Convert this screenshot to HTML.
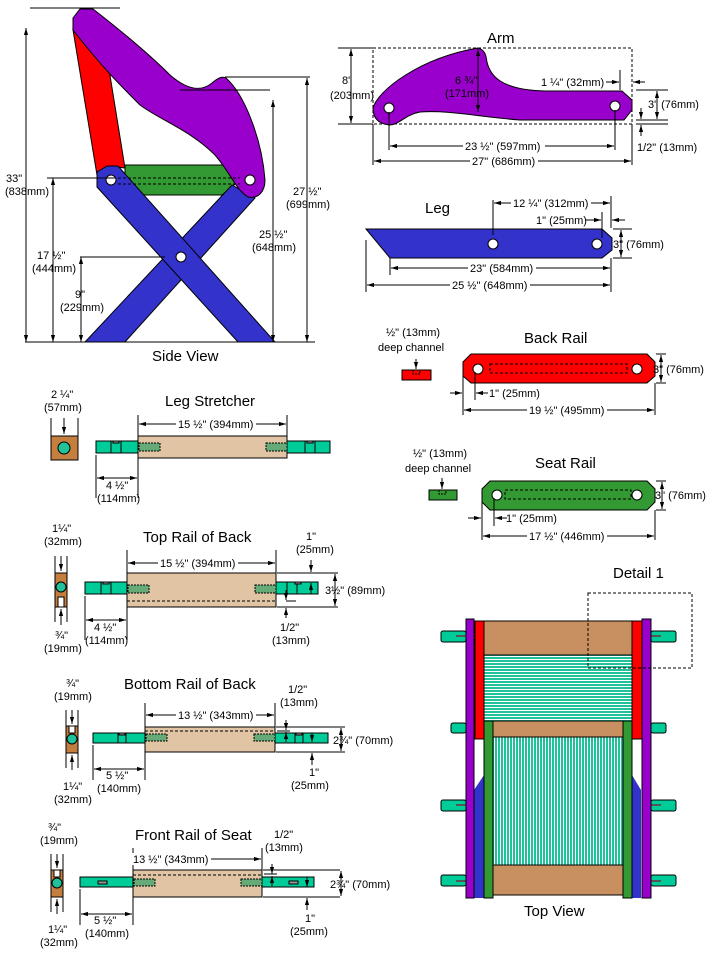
<!DOCTYPE html>
<html><head><meta charset="utf-8"><style>
html,body{margin:0;padding:0;background:#fff;}
svg{display:block;}
text{font-family:"Liberation Sans",sans-serif;font-size:11px;fill:#000;}
.t{font-size:15px;}
</style></head><body>
<svg width="720" height="960" viewBox="0 0 720 960" xmlns="http://www.w3.org/2000/svg">
<defs>
<marker id="a" viewBox="0 0 10 10" refX="10" refY="5" markerWidth="7" markerHeight="7" orient="auto-start-reverse"><path d="M0,2L10,5L0,8z" fill="#000"/></marker>
<pattern id="hs" width="4" height="3" patternUnits="userSpaceOnUse"><rect width="4" height="3" fill="#fff"/><rect width="4" height="2" fill="#1fc29a"/></pattern>
<pattern id="vs" width="3" height="4" patternUnits="userSpaceOnUse"><rect width="3" height="4" fill="#fff"/><rect width="2" height="4" fill="#1fc29a"/></pattern>
</defs>
<g stroke="#000" stroke-width="1" fill="none">
<!-- SIDE VIEW -->
<polygon points="125,165 228,165 240,180 222,195 140,195 125,180" fill="#339933"/>
<polygon points="73,30 108,63 125,168 107,166 97,175" fill="#ff0000"/>
<polygon points="232,185 255,198 125,342 85,342" fill="#3333cc"/>
<polygon points="97,172 107,166 118,166 275,342 238,342 97,187" fill="#3333cc"/>
<path d="M73,18 L80,9 L93,9 C120,30 150,55 170,75 C185,88 200,93 212,83 C218,78 222,76 226,78 C245,95 262,140 265,180 C265,192 258,199 248,197 C236,190 232,175 215,155 C190,130 160,120 140,105 C120,85 100,65 73,30 Z" fill="#9900cc"/>
<path d="M118,178 L240,178 M118,184 L240,184" stroke-dasharray="3,2"/>
<circle cx="111" cy="180" r="5" fill="#fff"/><circle cx="250" cy="180" r="5" fill="#fff"/><circle cx="181" cy="257" r="5" fill="#fff"/>
<path d="M30,8 L120,8 M25,342 L315,342 M47,178 L115,178 M80,257 L165,257 M225,77 L310,77 M180,90 L270,90"/>
<line x1="26" y1="28" x2="26" y2="342" marker-start="url(#a)" marker-end="url(#a)"/>
<line x1="53" y1="178" x2="53" y2="342" marker-start="url(#a)" marker-end="url(#a)"/>
<line x1="81" y1="257" x2="81" y2="342" marker-start="url(#a)" marker-end="url(#a)"/>
<line x1="273" y1="100" x2="273" y2="342" marker-start="url(#a)" marker-end="url(#a)"/>
<line x1="307" y1="78" x2="307" y2="342" marker-start="url(#a)" marker-end="url(#a)"/>
<!-- ARM -->
<rect x="373" y="48" width="259" height="76" stroke-dasharray="3,2"/>
<path d="M373,108 C378,90 420,58 478,48 C485,50 486,55 487,62 C490,75 500,90 545,91 L622,91 L632,100 L632,110 L624,120 L520,120 C480,117 450,110 420,112 C405,115 400,124 390,125 C378,124 373,118 373,108 Z" fill="#9900cc"/>
<circle cx="389" cy="108" r="5" fill="#fff"/><circle cx="615" cy="106" r="5" fill="#fff"/>
<path d="M338,48 L373,48 M338,124 L373,124"/>
<line x1="351" y1="49" x2="351" y2="123" marker-start="url(#a)" marker-end="url(#a)"/>
<line x1="478" y1="49" x2="478" y2="112" marker-start="url(#a)" marker-end="url(#a)"/>
<path d="M389,112 L389,150 M615,110 L615,150 M373,124 L373,165 M632,124 L632,165 M620,70 L620,90 M636,90 L668,90 M636,120 L668,120 M636,124 L668,124"/>
<line x1="390" y1="146" x2="614" y2="146" marker-start="url(#a)" marker-end="url(#a)"/>
<line x1="374" y1="161" x2="631" y2="161" marker-start="url(#a)" marker-end="url(#a)"/>
<line x1="606" y1="82" x2="619" y2="82" marker-end="url(#a)"/>
<line x1="645" y1="82" x2="633" y2="82" marker-end="url(#a)"/>
<line x1="657" y1="91" x2="657" y2="119" marker-start="url(#a)" marker-end="url(#a)"/>
<line x1="641" y1="108" x2="641" y2="119" marker-end="url(#a)"/>
<line x1="641" y1="136" x2="641" y2="125" marker-end="url(#a)"/>
<!-- LEG -->
<polygon points="366,229 602,229 612,238 612,250 602,258 390,258" fill="#3333cc"/>
<circle cx="493" cy="244" r="5" fill="#fff"/><circle cx="597" cy="244" r="5" fill="#fff"/>
<path d="M493,200 L493,235 M611,196 L611,228 M602,212 L602,238 M366,240 L366,292 M390,258 L390,275 M611,258 L611,292 M613,229 L632,229 M613,258 L632,258"/>
<line x1="494" y1="203" x2="610" y2="203" marker-start="url(#a)" marker-end="url(#a)"/>
<line x1="585" y1="220" x2="601" y2="220" marker-end="url(#a)"/>
<line x1="625" y1="220" x2="612" y2="220" marker-end="url(#a)"/>
<line x1="621" y1="230" x2="621" y2="257" marker-start="url(#a)" marker-end="url(#a)"/>
<line x1="391" y1="268" x2="610" y2="268" marker-start="url(#a)" marker-end="url(#a)"/>
<line x1="367" y1="285" x2="610" y2="285" marker-start="url(#a)" marker-end="url(#a)"/>
<!-- BACK RAIL -->
<polygon points="471,354 647,354 655,362 655,376 647,383 471,383 463,376 463,362" fill="#ff0000"/>
<circle cx="478" cy="369" r="5" fill="#fff"/><circle cx="637" cy="369" r="5" fill="#fff"/>
<rect x="490" y="364" width="137" height="9" stroke-dasharray="3,2"/>
<rect x="402" y="370" width="29" height="10" fill="#ff0000"/>
<path d="M413,370 L413,374 L420,374 L420,370" stroke-dasharray="2,1"/>
<line x1="416" y1="359" x2="416" y2="369" marker-end="url(#a)"/>
<path d="M463,376 L463,415 M475,372 L475,400 M655,383 L655,415 M656,354 L666,354 M656,383 L666,383"/>
<line x1="450" y1="393" x2="462" y2="393" marker-end="url(#a)"/>
<line x1="488" y1="393" x2="476" y2="393" marker-end="url(#a)"/>
<line x1="464" y1="410" x2="654" y2="410" marker-start="url(#a)" marker-end="url(#a)"/>
<line x1="661" y1="355" x2="661" y2="382" marker-start="url(#a)" marker-end="url(#a)"/>
<!-- SEAT RAIL -->
<polygon points="490,481 647,481 655,489 655,502 647,510 490,510 482,502 482,489" fill="#339933"/>
<circle cx="497" cy="495" r="5" fill="#fff"/><circle cx="637" cy="495" r="5" fill="#fff"/>
<rect x="505" y="490" width="126" height="9" stroke-dasharray="3,2"/>
<rect x="429" y="490" width="28" height="10" fill="#339933"/>
<path d="M439,490 L439,494 L446,494 L446,490" stroke-dasharray="2,1"/>
<line x1="442" y1="478" x2="442" y2="489" marker-end="url(#a)"/>
<path d="M482,502 L482,540 M494,498 L494,526 M655,510 L655,540 M656,481 L666,481 M656,510 L666,510"/>
<line x1="468" y1="518" x2="481" y2="518" marker-end="url(#a)"/>
<line x1="507" y1="518" x2="495" y2="518" marker-end="url(#a)"/>
<line x1="483" y1="536" x2="654" y2="536" marker-start="url(#a)" marker-end="url(#a)"/>
<line x1="662" y1="482" x2="662" y2="509" marker-start="url(#a)" marker-end="url(#a)"/>
<!-- LEG STRETCHER -->
<rect x="51" y="436" width="27" height="24" fill="#c47f3e"/><circle cx="64" cy="448" r="6" fill="#1fc29a"/>
<path d="M51,418 L51,436 M78,418 L78,436"/>
<line x1="64" y1="418" x2="64" y2="434" marker-end="url(#a)"/>
<rect x="96" y="441" width="234" height="12" fill="#00cc99"/>
<rect x="138" y="436" width="149" height="22" fill="#e0c4a4"/>
<rect x="139" y="443" width="21" height="8" fill="#66aa77" stroke-dasharray="2,1"/>
<rect x="266" y="443" width="21" height="8" fill="#66aa77" stroke-dasharray="2,1"/>
<path d="M111,441 L111,453 M121,441 L121,453 M305,441 L305,453 M315,441 L315,453"/>
<rect x="113" y="441" width="6" height="2" fill="#999"/><rect x="307" y="441" width="6" height="2" fill="#999"/>
<path d="M138,415 L138,436 M287,415 L287,436 M96,455 L96,498 M138,458 L138,498"/>
<line x1="139" y1="424" x2="286" y2="424" marker-start="url(#a)" marker-end="url(#a)"/>
<line x1="97" y1="478" x2="137" y2="478" marker-start="url(#a)" marker-end="url(#a)"/>
<!-- TOP RAIL -->
<rect x="55" y="573" width="12" height="34" fill="#c47f3e"/><circle cx="61" cy="587" r="5" fill="#1fc29a"/>
<rect x="58" y="597" width="6" height="10" fill="#fff"/>
<path d="M55,556 L55,573 M67,556 L67,573 M55,607 L55,622 M67,607 L67,622"/>
<line x1="61" y1="556" x2="61" y2="571" marker-end="url(#a)"/>
<line x1="61" y1="625" x2="61" y2="609" marker-end="url(#a)"/>
<rect x="85" y="582" width="233" height="12" fill="#00cc99"/>
<rect x="127" y="573" width="149" height="34" fill="#e0c4a4"/>
<line x1="127" y1="601" x2="276" y2="601" stroke-dasharray="3,2"/>
<rect x="128" y="585" width="21" height="8" fill="#66aa77" stroke-dasharray="2,1"/>
<rect x="255" y="585" width="21" height="8" fill="#66aa77" stroke-dasharray="2,1"/>
<path d="M101,582 L101,594 M111,582 L111,594 M287,582 L287,594 M297,582 L297,594"/>
<rect x="103" y="582" width="6" height="2" fill="#999"/><rect x="295" y="582" width="6" height="2" fill="#999"/>
<path d="M127,550 L127,573 M276,550 L276,573 M85,596 L85,640 M127,607 L127,640 M277,573 L338,573 M277,607 L338,607 M286,601 L296,601"/>
<line x1="128" y1="563" x2="275" y2="563" marker-start="url(#a)" marker-end="url(#a)"/>
<line x1="86" y1="620" x2="126" y2="620" marker-start="url(#a)" marker-end="url(#a)"/>
<line x1="311" y1="560" x2="311" y2="572" marker-end="url(#a)"/>
<line x1="311" y1="594" x2="311" y2="583" marker-end="url(#a)"/>
<line x1="335" y1="574" x2="335" y2="606" marker-start="url(#a)" marker-end="url(#a)"/>
<line x1="286" y1="590" x2="286" y2="600" marker-end="url(#a)"/>
<line x1="286" y1="618" x2="286" y2="608" marker-end="url(#a)"/>
<!-- BOTTOM RAIL -->
<rect x="66" y="726" width="12" height="27" fill="#c47f3e"/><circle cx="72" cy="739" r="5" fill="#1fc29a"/>
<rect x="69" y="726" width="6" height="7" fill="#fff"/>
<path d="M66,710 L66,726 M78,710 L78,726 M66,753 L66,768 M78,753 L78,768"/>
<line x1="72" y1="710" x2="72" y2="724" marker-end="url(#a)"/>
<line x1="72" y1="770" x2="72" y2="755" marker-end="url(#a)"/>
<rect x="93" y="733" width="235" height="10" fill="#00cc99"/>
<rect x="145" y="727" width="130" height="25" fill="#e0c4a4"/>
<line x1="145" y1="731" x2="275" y2="731" stroke-dasharray="3,2"/>
<rect x="146" y="734" width="21" height="7" fill="#66aa77" stroke-dasharray="2,1"/>
<rect x="254" y="734" width="21" height="7" fill="#66aa77" stroke-dasharray="2,1"/>
<path d="M118,733 L118,743 M126,733 L126,743 M295,733 L295,743 M303,733 L303,743"/>
<rect x="119" y="733" width="6" height="2" fill="#999"/><rect x="296" y="733" width="6" height="2" fill="#999"/>
<path d="M145,703 L145,727 M275,703 L275,727 M93,745 L93,780 M145,752 L145,780 M276,727 L345,727 M276,752 L345,752 M277,731 L290,731"/>
<line x1="146" y1="715" x2="274" y2="715" marker-start="url(#a)" marker-end="url(#a)"/>
<line x1="94" y1="769" x2="144" y2="769" marker-start="url(#a)" marker-end="url(#a)"/>
<line x1="286" y1="720" x2="286" y2="730" marker-end="url(#a)"/>
<line x1="286" y1="742" x2="286" y2="732" marker-end="url(#a)"/>
<line x1="312" y1="733" x2="312" y2="742" marker-end="url(#a)"/>
<line x1="312" y1="765" x2="312" y2="753" marker-end="url(#a)"/>
<line x1="341" y1="728" x2="341" y2="751" marker-start="url(#a)" marker-end="url(#a)"/>
<!-- FRONT RAIL -->
<rect x="51" y="870" width="12" height="27" fill="#c47f3e"/><circle cx="57" cy="883" r="5" fill="#1fc29a"/>
<rect x="54" y="870" width="6" height="7" fill="#fff"/>
<path d="M51,854 L51,870 M63,854 L63,870 M51,897 L51,912 M63,897 L63,912"/>
<line x1="57" y1="854" x2="57" y2="868" marker-end="url(#a)"/>
<line x1="57" y1="914" x2="57" y2="899" marker-end="url(#a)"/>
<rect x="80" y="877" width="234" height="10" fill="#00cc99"/>
<rect x="133" y="870" width="129" height="27" fill="#e0c4a4"/>
<line x1="133" y1="875" x2="262" y2="875" stroke-dasharray="3,2"/>
<rect x="134" y="879" width="21" height="7" fill="#66aa77" stroke-dasharray="2,1"/>
<rect x="241" y="879" width="21" height="7" fill="#66aa77" stroke-dasharray="2,1"/>
<rect x="98" y="881" width="9" height="3" fill="#999"/><rect x="289" y="881" width="9" height="3" fill="#999"/>
<path d="M133,848 L133,870 M262,848 L262,870 M80,889 L80,925 M133,897 L133,925 M263,870 L340,870 M263,897 L340,897 M264,874 L277,874"/>
<line x1="134" y1="859" x2="261" y2="859" marker-start="url(#a)" marker-end="url(#a)"/>
<line x1="81" y1="914" x2="132" y2="914" marker-start="url(#a)" marker-end="url(#a)"/>
<line x1="272" y1="864" x2="272" y2="874" marker-end="url(#a)"/>
<line x1="272" y1="886" x2="272" y2="876" marker-end="url(#a)"/>
<line x1="307" y1="877" x2="307" y2="887" marker-end="url(#a)"/>
<line x1="307" y1="910" x2="307" y2="898" marker-end="url(#a)"/>
<line x1="341" y1="871" x2="341" y2="896" marker-start="url(#a)" marker-end="url(#a)"/>
<!-- TOP VIEW -->
<rect x="441" y="631" width="25" height="11" rx="2" fill="#00cc99"/>
<rect x="451" y="723" width="15" height="10" rx="2" fill="#00cc99"/>
<rect x="441" y="800" width="25" height="11" rx="2" fill="#00cc99"/>
<rect x="441" y="875" width="25" height="11" rx="2" fill="#00cc99"/>
<rect x="651" y="631" width="25" height="11" rx="2" fill="#00cc99"/>
<rect x="651" y="723" width="15" height="10" rx="2" fill="#00cc99"/>
<rect x="651" y="800" width="25" height="11" rx="2" fill="#00cc99"/>
<rect x="651" y="875" width="25" height="11" rx="2" fill="#00cc99"/>
<path d="M456,636 L466,636 M456,805 L466,805 M456,881 L466,881 M651,636 L661,636 M651,805 L661,805 M651,881 L661,881" stroke="#555" stroke-width="2"/>
<polygon points="474,790 484,775 484,898 474,898" fill="#3333cc" stroke="none"/>
<polygon points="641,790 632,775 632,898 641,898" fill="#3333cc" stroke="none"/>
<rect x="466" y="619" width="8" height="279" fill="#9900cc"/>
<rect x="642" y="619" width="9" height="279" fill="#9900cc"/>
<rect x="475" y="621" width="9" height="118" fill="#ff0000"/>
<rect x="632" y="621" width="10" height="118" fill="#ff0000"/>
<rect x="484" y="621" width="148" height="34" fill="#c89060"/>
<rect x="484" y="655" width="148" height="66" fill="url(#hs)"/>
<rect x="493" y="721" width="130" height="16" fill="#c89060"/>
<rect x="493" y="737" width="130" height="128" fill="url(#vs)"/>
<rect x="493" y="865" width="130" height="30" fill="#c89060"/>
<rect x="484" y="721" width="9" height="177" fill="#339933"/>
<rect x="623" y="721" width="9" height="177" fill="#339933"/>
<rect x="588" y="593" width="104" height="75" stroke-dasharray="3,2"/>
</g>
<!-- label backgrounds -->
<g fill="#fff">
<rect x="463" y="140" width="82" height="12"/>
<rect x="470" y="155" width="68" height="12"/>
<rect x="511" y="197" width="80" height="12"/>
<rect x="468" y="262" width="68" height="12"/>
<rect x="450" y="279" width="80" height="12"/>
<rect x="527" y="404" width="80" height="12"/>
<rect x="527" y="530" width="80" height="12"/>
<rect x="176" y="418" width="80" height="12"/>
<rect x="158" y="557" width="80" height="12"/>
<rect x="176" y="709" width="80" height="12"/>
<rect x="131" y="853" width="80" height="12"/>
</g>
<!-- TEXT -->
<text class="t" x="152" y="361">Side View</text>
<text x="6" y="182">33"</text><text x="5" y="195">(838mm)</text>
<text x="37" y="259">17 ½"</text><text x="32" y="272">(444mm)</text>
<text x="75" y="298">9"</text><text x="60" y="311">(229mm)</text>
<text x="259" y="238">25 ½"</text><text x="252" y="251">(648mm)</text>
<text x="293" y="195">27 ½"</text><text x="286" y="208">(699mm)</text>
<text x="342" y="84">8"</text><text x="330" y="99">(203mm)</text>
<text class="t" x="487" y="43">Arm</text>
<text x="455" y="84">6 ¾"</text><text x="445" y="97">(171mm)</text>
<text x="541" y="86">1 ¼" (32mm)</text>
<text x="648" y="108">3" (76mm)</text>
<text x="637" y="151">1/2" (13mm)</text>
<text x="465" y="150">23 ½" (597mm)</text>
<text x="472" y="165">27" (686mm)</text>
<text class="t" x="425" y="213">Leg</text>
<text x="513" y="207">12 ¼" (312mm)</text>
<text x="536" y="224">1" (25mm)</text>
<text x="613" y="248">3" (76mm)</text>
<text x="470" y="272">23" (584mm)</text>
<text x="452" y="289">25 ½" (648mm)</text>
<text x="386" y="336">½" (13mm)</text><text x="378" y="351">deep channel</text>
<text class="t" x="524" y="343">Back Rail</text>
<text x="653" y="373">3" (76mm)</text>
<text x="489" y="397">1" (25mm)</text>
<text x="529" y="414">19 ½" (495mm)</text>
<text x="413" y="457">½" (13mm)</text><text x="405" y="472">deep channel</text>
<text class="t" x="535" y="468">Seat Rail</text>
<text x="655" y="499">3" (76mm)</text>
<text x="506" y="522">1" (25mm)</text>
<text x="529" y="540">17 ½" (446mm)</text>
<text x="51" y="398">2 ¼"</text><text x="44" y="411">(57mm)</text>
<text class="t" x="165" y="406">Leg Stretcher</text>
<text x="178" y="428">15 ½" (394mm)</text>
<text x="106" y="489">4 ½"</text><text x="97" y="502">(114mm)</text>
<text x="52" y="532">1¼"</text><text x="44" y="545">(32mm)</text>
<text class="t" x="143" y="542">Top Rail of Back</text>
<text x="160" y="567">15 ½" (394mm)</text>
<text x="306" y="540">1"</text><text x="296" y="553">(25mm)</text>
<text x="325" y="594">3½" (89mm)</text>
<text x="94" y="631">4 ½"</text><text x="85" y="644">(114mm)</text>
<text x="280" y="631">1/2"</text><text x="272" y="644">(13mm)</text>
<text x="55" y="639">¾"</text><text x="44" y="652">(19mm)</text>
<text class="t" x="124" y="689">Bottom Rail of Back</text>
<text x="66" y="687">¾"</text><text x="54" y="700">(19mm)</text>
<text x="178" y="719">13 ½" (343mm)</text>
<text x="288" y="693">1/2"</text><text x="280" y="706">(13mm)</text>
<text x="333" y="744">2¾" (70mm)</text>
<text x="309" y="776">1"</text><text x="291" y="789">(25mm)</text>
<text x="63" y="790">1¼"</text><text x="54" y="803">(32mm)</text>
<text x="106" y="779">5 ½"</text><text x="97" y="792">(140mm)</text>
<text class="t" x="135" y="840">Front Rail of Seat</text>
<text x="48" y="831">¾"</text><text x="40" y="844">(19mm)</text>
<text x="133" y="863">13 ½" (343mm)</text>
<text x="274" y="838">1/2"</text><text x="265" y="851">(13mm)</text>
<text x="330" y="888">2¾" (70mm)</text>
<text x="305" y="922">1"</text><text x="290" y="935">(25mm)</text>
<text x="48" y="933">1¼"</text><text x="40" y="946">(32mm)</text>
<text x="94" y="924">5 ½"</text><text x="85" y="937">(140mm)</text>
<text class="t" x="613" y="578">Detail 1</text>
<text class="t" x="524" y="916">Top View</text>
</svg>
</body></html>
